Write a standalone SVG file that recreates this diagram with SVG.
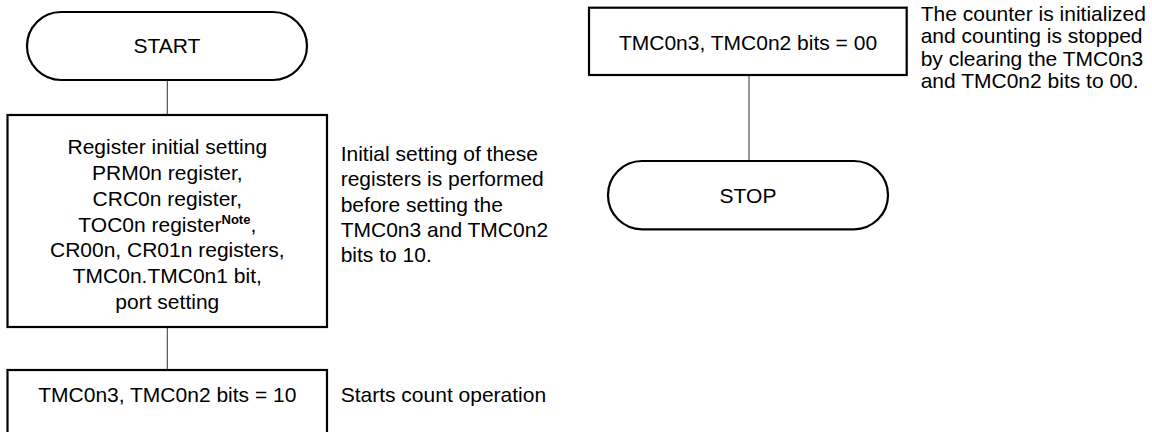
<svg xmlns="http://www.w3.org/2000/svg" width="1152" height="432" viewBox="0 0 1152 432">
<style>
.n{fill:#fff;stroke:#000;stroke-width:2.2}
.t{font-family:"Liberation Sans",Arial,sans-serif;font-size:21px;fill:#000}
.c{text-anchor:middle}
.e{stroke:#444;stroke-width:1.1;fill:none}
</style>
<rect width="1152" height="432" fill="#fff"/>
<g id="connectors">
<line class="e" x1="167.3" y1="80" x2="167.3" y2="115"/>
<line class="e" x1="167.3" y1="327" x2="167.3" y2="370"/>
<line class="e" x1="749" y1="75" x2="749" y2="161"/>
</g>
<g id="start">
<rect class="n" x="27" y="12" width="280" height="68" rx="34" ry="34"/>
<text class="t c" x="167" y="53.3">START</text>
</g>
<g id="init">
<rect class="n" x="7.5" y="115" width="319.5" height="212"/>
<text class="t c" x="167.3" y="154.3">Register initial setting</text>
<text class="t c" x="167.3" y="180">PRM0n register,</text>
<text class="t c" x="167.3" y="206">CRC0n register,</text>
<text class="t c" x="167.3" y="231.7">TOC0n register<tspan font-size="13" font-weight="bold" dy="-7.5">Note</tspan><tspan dy="7.5">,</tspan></text>
<text class="t c" x="167.3" y="257.3">CR00n, CR01n registers,</text>
<text class="t c" x="167.3" y="283">TMC0n.TMC0n1 bit,</text>
<text class="t c" x="167.3" y="308.6">port setting</text>
</g>
<g id="note-init">
<text class="t" x="340.7" y="161">Initial setting of these</text>
<text class="t" x="340.7" y="186.3">registers is performed</text>
<text class="t" x="340.7" y="211.7">before setting the</text>
<text class="t" x="340.7" y="236.7">TMC0n3 and TMC0n2</text>
<text class="t" x="340.7" y="262.3">bits to 10.</text>
</g>
<g id="count">
<rect class="n" x="7.5" y="370" width="319.5" height="66"/>
<text class="t c" x="167.3" y="401.7">TMC0n3, TMC0n2 bits = 10</text>
</g>
<g id="note-count">
<text class="t" x="340.7" y="401.7">Starts count operation</text>
</g>
<g id="stopbits">
<rect class="n" x="589" y="7.7" width="317.7" height="67.3"/>
<text class="t c" x="748" y="50">TMC0n3, TMC0n2 bits = 00</text>
</g>
<g id="note-stop">
<text class="t" x="920.7" y="21">The counter is initialized</text>
<text class="t" x="920.7" y="43.3">and counting is stopped</text>
<text class="t" x="920.7" y="65.5">by clearing the TMC0n3</text>
<text class="t" x="920.7" y="87.7">and TMC0n2 bits to 00.</text>
</g>
<g id="stop">
<rect class="n" x="608" y="161" width="280" height="68.3" rx="34" ry="34"/>
<text class="t c" x="748" y="202.7">STOP</text>
</g>
</svg>
